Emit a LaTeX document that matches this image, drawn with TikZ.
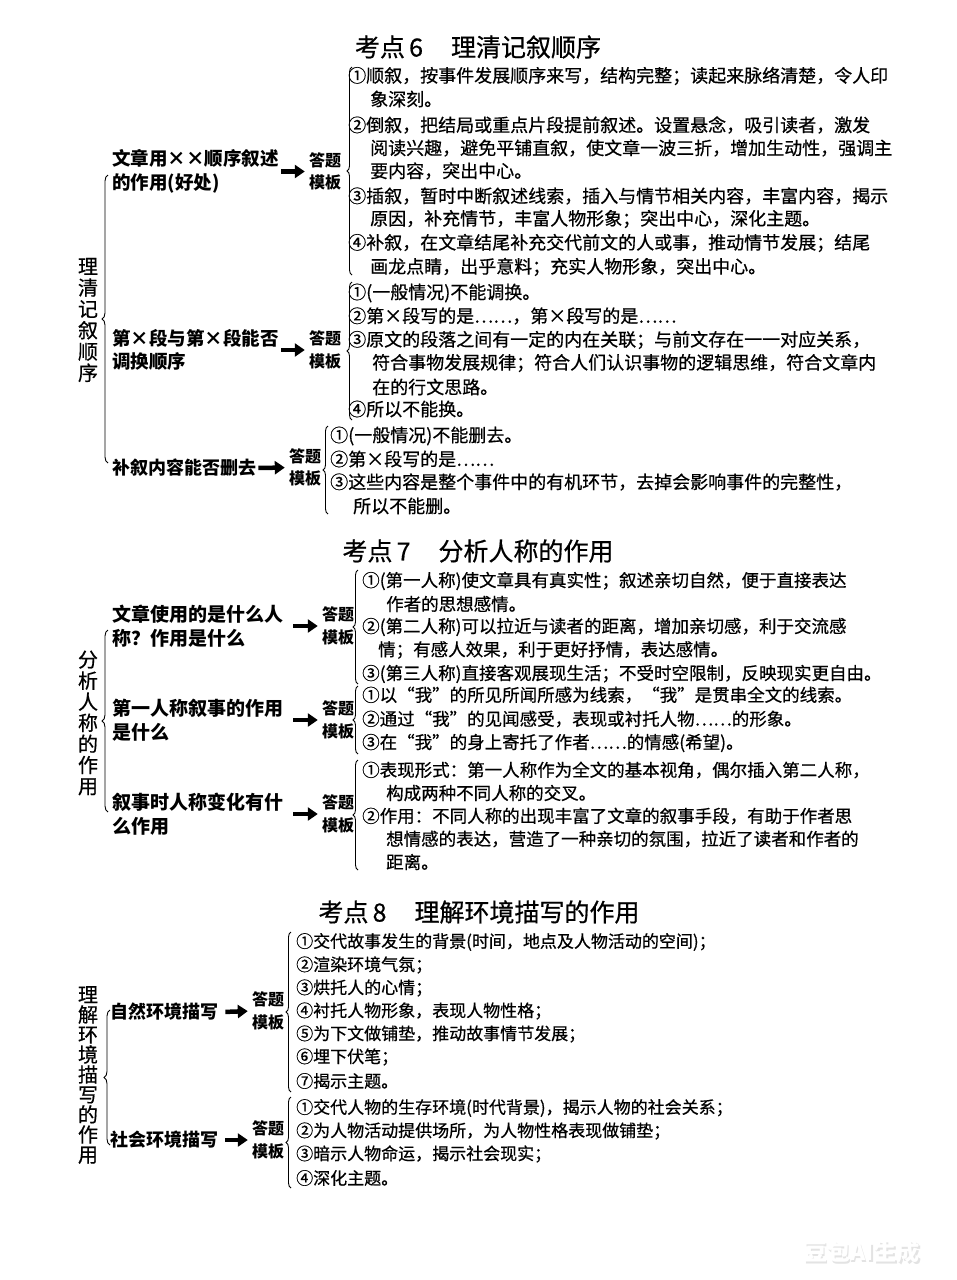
\documentclass[tikz,border=0pt]{standalone}
\usepackage{fontspec}
\setmainfont{Noto Sans CJK SC}
\newfontfamily\medf[FakeBold=0.6]{Noto Sans CJK SC}
\usetikzlibrary{arrows.meta,decorations.pathreplacing}
\begin{document}
\begin{tikzpicture}[x=1pt,y=1pt,
 ttl/.style={inner sep=0, font=\medf\fontsize{25}{28}\selectfont},
 bd/.style={anchor=west, inner sep=0, font=\medf\fontsize{18}{20}\selectfont},
 bdm/.style={anchor=west, inner sep=0, font=\medf\fontsize{17.5}{20}\selectfont},
 bds/.style={anchor=west, inner sep=0, font=\medf\fontsize{17}{20}\selectfont},
 lab/.style={anchor=west, inner sep=0, align=left},
 labA/.style={lab, text width=166pt, font=\fontsize{18.5}{23.5}\selectfont\bfseries},
 labB/.style={lab, text width=178pt, font=\fontsize{19}{24}\selectfont\bfseries},
 labC/.style={lab, text width=112pt, font=\fontsize{18}{22}\selectfont\bfseries},
 tpl/.style={inner sep=0, align=center, font=\fontsize{16}{22.5}\selectfont\bfseries},
 vlab/.style={inner sep=0, align=center},
 arr/.style={line width=4.5pt, -{Triangle[length=10pt,width=13pt]}, shorten >=4pt, shorten <=3pt},
 brc/.style={decorate, decoration={brace, amplitude=5pt}, line width=0.9pt},
 bbrc/.style={decorate, decoration={brace, amplitude=6pt}, line width=0.9pt},
]
\useasboundingbox (0,0) rectangle (956,-1280);
\fill[white] (0,0) rectangle (956,-1280);

% ================= Section 6 =================
\node[ttl] (t6) at (478,-47) {考点\,6\hspace{28pt}理清记叙顺序};
\node[vlab, font=\medf\fontsize{20}{21.3}\selectfont] (v6) at (88,-320) {理\\清\\记\\叙\\顺\\序};
\draw[bbrc] (108,-463) -- (108,-175);

\node[labA] (l6a) at (112,-171.5) {文章用××顺序叙述\\的作用(好处)};
\node[tpl] (p6a) at (325,-171.5) {答题\\模板};
\draw[arr] (l6a.east) -- (p6a.west);
\draw[brc] (352,-275) -- (352,-67);
\node[bd] (a61) at (348,-76) {①顺叙，按事件发展顺序来写，结构完整；读起来脉络清楚，令人印};
\node[bd] (a62) at (370,-99) {象深刻。};
\node[bd] (a63) at (348,-125) {②倒叙，把结局或重点片段提前叙述。设置悬念，吸引读者，激发};
\node[bd] (a64) at (370,-148) {阅读兴趣，避免平铺直叙，使文章一波三折，增加生动性，强调主};
\node[bd] (a65) at (370,-171) {要内容，突出中心。};
\node[bd] (a66) at (348,-196) {③插叙，暂时中断叙述线索，插入与情节相关内容，丰富内容，揭示};
\node[bd] (a67) at (370,-219) {原因，补充情节，丰富人物形象；突出中心，深化主题。};
\node[bd] (a68) at (348,-243) {④补叙，在文章结尾补充交代前文的人或事，推动情节发展；结尾};
\node[bd] (a69) at (370,-267) {画龙点睛，出乎意料；充实人物形象，突出中心。};

\node[labA] (l6b) at (112,-350) {第×段与第×段能否\\调换顺序};
\node[tpl] (p6b) at (325,-350) {答题\\模板};
\draw[arr] (l6b.east) -- (p6b.west);
\draw[brc] (352,-420) -- (352,-282);
\node[bd] (b61) at (348,-293) {①(一般情况)不能调换。};
\node[bd] (b62) at (348,-316) {②第×段写的是……，第×段写的是……};
\node[bd] (b63) at (348,-340) {③原文的段落之间有一定的内在关联；与前文存在一一对应关系，};
\node[bd] (b64) at (372,-363) {符合事物发展规律；符合人们认识事物的逻辑思维，符合文章内};
\node[bd] (b65) at (372,-387) {在的行文思路。};
\node[bd] (b66) at (348,-409) {④所以不能换。};

\node[lab, text width=143pt, font=\fontsize{18}{22}\selectfont\bfseries] (l6c) at (112,-468) {补叙内容能否删去};
\node[tpl] (p6c) at (305,-467.5) {答题\\模板};
\draw[arr] (l6c.east) -- (p6c.west);
\draw[brc] (328,-514) -- (328,-426);
\node[bd] (c61) at (330,-436) {①(一般情况)不能删去。};
\node[bd] (c62) at (330,-459) {②第×段写的是……};
\node[bd] (c63) at (330,-482) {③这些内容是整个事件中的有机环节，去掉会影响事件的完整性，};
\node[bd] (c64) at (353,-506) {所以不能删。};

% ================= Section 7 =================
\node[ttl] (t7) at (478,-551) {考点\,7\hspace{28pt}分析人称的作用};
\node[vlab, font=\medf\fontsize{20}{21.1}\selectfont] (v7) at (88,-723) {分\\析\\人\\称\\的\\作\\用};
\draw[bbrc] (108,-812) -- (108,-630);

\node[labB] (l7a) at (112,-626) {文章使用的是什么人\\称？作用是什么};
\node[tpl] (p7a) at (338,-626) {答题\\模板};
\draw[arr] (l7a.east) -- (p7a.west);
\draw[brc] (358,-684) -- (358,-570);
\node[bdm] (a71) at (362,-581) {①(第一人称)使文章具有真实性；叙述亲切自然，便于直接表达};
\node[bdm] (a72) at (386,-604) {作者的思想感情。};
\node[bdm] (a73) at (362,-627) {②(第二人称)可以拉近与读者的距离，增加亲切感，利于交流感};
\node[bdm] (a74) at (378,-650) {情；有感人效果，利于更好抒情，表达感情。};
\node[bdm] (a75) at (362,-674) {③(第三人称)直接客观展现生活；不受时空限制，反映现实更自由。};

\node[labB] (l7b) at (112,-720) {第一人称叙事的作用\\是什么};
\node[tpl] (p7b) at (338,-720) {答题\\模板};
\draw[arr] (l7b.east) -- (p7b.west);
\draw[brc] (358,-754) -- (358,-686);
\node[bdm] (b71) at (362,-695) {①以“我”的所见所闻所感为线索，“我”是贯串全文的线索。};
\node[bdm] (b72) at (362,-719) {②通过“我”的见闻感受，表现或衬托人物……的形象。};
\node[bdm] (b73) at (362,-743) {③在“我”的身上寄托了作者……的情感(希望)。};

\node[labB] (l7c) at (112,-814) {叙事时人称变化有什\\么作用};
\node[tpl] (p7c) at (338,-814) {答题\\模板};
\draw[arr] (l7c.east) -- (p7c.west);
\draw[brc] (358,-870) -- (358,-760);
\node[bdm] (c71) at (362,-770) {①表现形式：第一人称作为全文的基本视角，偶尔插入第二人称，};
\node[bdm] (c72) at (386,-793) {构成两种不同人称的交叉。};
\node[bdm] (c73) at (362,-816) {②作用：不同人称的出现丰富了文章的叙事手段，有助于作者思};
\node[bdm] (c74) at (386,-839) {想情感的表达，营造了一种亲切的氛围，拉近了读者和作者的};
\node[bdm] (c75) at (386,-862) {距离。};

% ================= Section 8 =================
\node[ttl] (t8) at (479,-912) {考点\,8\hspace{28pt}理解环境描写的作用};
\node[vlab, font=\medf\fontsize{20}{20}\selectfont] (v8) at (88,-1075) {理\\解\\环\\境\\描\\写\\的\\作\\用};
\draw[bbrc] (110,-1145) -- (110,-1010);

\node[labC] (l8a) at (110,-1012) {自然环境描写};
\node[tpl] (p8a) at (268,-1011) {答题\\模板};
\draw[arr] (l8a.east) -- (p8a.west);
\draw[brc] (291,-1092) -- (291,-932);
\node[bds] (a81) at (296,-942) {①交代故事发生的背景(时间，地点及人物活动的空间)；};
\node[bds] (a82) at (296,-965) {②渲染环境气氛；};
\node[bds] (a83) at (296,-988) {③烘托人的心情；};
\node[bds] (a84) at (296,-1011) {④衬托人物形象，表现人物性格；};
\node[bds] (a85) at (296,-1034) {⑤为下文做铺垫，推动故事情节发展；};
\node[bds] (a86) at (296,-1057) {⑥埋下伏笔；};
\node[bds] (a87) at (296,-1081) {⑦揭示主题。};

\node[labC] (l8b) at (110,-1140) {社会环境描写};
\node[tpl] (p8b) at (268,-1140) {答题\\模板};
\draw[arr] (l8b.east) -- (p8b.west);
\draw[brc] (291,-1188) -- (291,-1097);
\node[bds] (b81) at (296,-1108) {①交代人物的生存环境(时代背景)，揭示人物的社会关系；};
\node[bds] (b82) at (296,-1131) {②为人物活动提供场所，为人物性格表现做铺垫；};
\node[bds] (b83) at (296,-1154) {③暗示人物命运，揭示社会现实；};
\node[bds] (b84) at (296,-1178) {④深化主题。};

% watermark
\node[font=\fontsize{23}{25}\selectfont\bfseries, text=gray!22] (wms) at (863.5,-1253.5) {豆包AI生成};
\node[font=\fontsize{23}{25}\selectfont\bfseries, text=white] (wm) at (862,-1252) {豆包AI生成};
\end{tikzpicture}
\end{document}
